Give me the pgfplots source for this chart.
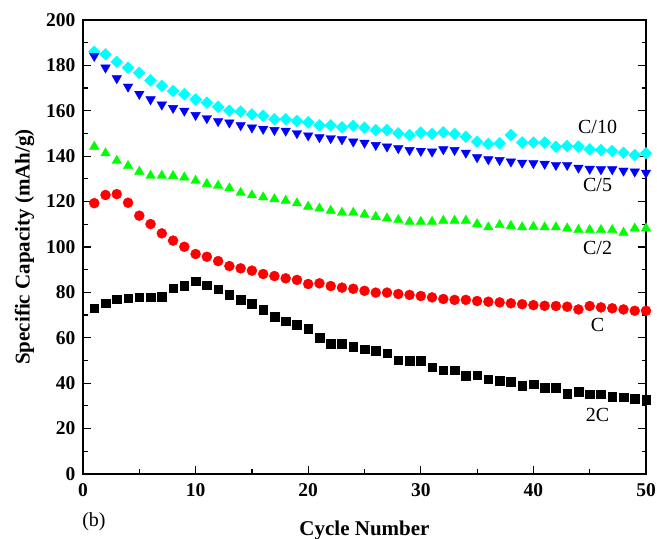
\documentclass[border=0pt]{standalone}
\usepackage{fontspec}
\setmainfont{Liberation Serif}
\usepackage{pgfplots}
\pgfplotsset{compat=1.18}
\usetikzlibrary{calc}
\definecolor{ccyan}{RGB}{0,255,255}
\definecolor{cblue}{RGB}{0,0,255}
\definecolor{cgreen}{RGB}{0,255,0}
\definecolor{cred}{RGB}{255,0,0}
\begin{document}
\begin{tikzpicture}
\begin{axis}[
  scale only axis, width=563pt, height=454pt,
  xmin=0, xmax=50, ymin=0, ymax=200,
  xtick distance=10, ytick distance=20,
  minor x tick num=1, minor y tick num=1,
  tick align=inside, xtick pos=bottom, ytick pos=both,
  major tick length=8pt, minor tick length=4.5pt,
  axis line style={line width=1.3pt}, every tick/.style={line width=1.2pt, black},
  /pgf/number format/assume math mode=true,
  ticklabel style={font=\bfseries\fontsize{19.5}{19.5}\selectfont},
  xticklabel style={yshift=-6pt},
  yticklabel style={xshift=-4pt},
  label style={font=\bfseries\fontsize{21}{21}\selectfont},
  xlabel={Cycle Number}, ylabel={Specific Capacity (mAh/g)},
  xlabel style={yshift=-17pt},
  ylabel style={yshift=5pt},
  only marks, clip=false,
]
% C/10
\addplot[mark=square*, color=ccyan, mark options={rotate=45, draw=none, fill=ccyan}, mark size=4.2] coordinates {
(1,186)(2,184.9)(3,181.6)(4,179)(5,176.7)(6,173.4)(7,171)(8,168.7)(9,167.3)(10,165)
(11,163.6)(12,161.8)(13,160)(14,159.6)(15,158.4)(16,157.8)(17,156.3)(18,156.3)(19,155.5)(20,154.9)
(21,153.6)(22,153.6)(23,152.7)(24,153.4)(25,152.5)(26,151.5)(27,151.5)(28,150.1)(29,149.3)(30,150.4)
(31,149.8)(32,150.5)(33,149.8)(34,148.6)(35,146.4)(36,145.4)(37,145.7)(38,149.3)(39,146)(40,146)
(41,146)(42,144.2)(43,144.5)(44,144.2)(45,143)(46,142.7)(47,142.3)(48,141.5)(49,140.5)(50,141.3)};
% C/5
\addplot[mark=triangle*, color=cblue, mark options={rotate=180, draw=none, fill=cblue}, mark size=5.5] coordinates {
(1,184.1)(2,179)(3,174.3)(4,170.6)(5,167.4)(6,165)(7,162.7)(8,161.2)(9,160)(10,158.1)
(11,156.7)(12,155.4)(13,154.8)(14,153.6)(15,152.6)(16,152)(17,151.5)(18,151.2)(19,150.1)(20,149.1)
(21,148.3)(22,147.9)(23,147.4)(24,146.4)(25,145.9)(26,144.9)(27,144.2)(28,143.5)(29,142.7)(30,142.3)
(31,142)(32,143)(33,142.7)(34,141.5)(35,139.5)(36,138.6)(37,138.3)(38,137.6)(39,137.1)(40,136.9)
(41,136.6)(42,136.1)(43,136.1)(44,134.9)(45,134.4)(46,134.2)(47,134.2)(48,133.6)(49,133.2)(50,132.7)};
% C/2
\addplot[mark=triangle*, color=cgreen, mark options={draw=none, fill=cgreen}, mark size=5.5] coordinates {
(1,144.2)(2,141.3)(3,138)(4,135.7)(5,133.2)(6,131.4)(7,131.4)(8,131.3)(9,130.7)(10,129.2)
(11,127.8)(12,127)(13,125.9)(14,123.9)(15,122.8)(16,121.9)(17,121.1)(18,120.4)(19,119.3)(20,117.8)
(21,117)(22,116)(23,115.1)(24,115.1)(25,114.3)(26,113.3)(27,112.6)(28,111.9)(29,111.1)(30,111.1)
(31,111.1)(32,111.6)(33,111.6)(34,111.6)(35,110.1)(36,108.7)(37,109.7)(38,109.3)(39,108.7)(40,108.9)
(41,108.7)(42,108.7)(43,108.2)(44,107.5)(45,107.5)(46,107.5)(47,107.5)(48,106.3)(49,108.2)(50,108.2)};
% C
\addplot[mark=*, color=cred, mark options={draw=none, fill=cred}, mark size=5] coordinates {
(1,119.3)(2,122.9)(3,123.3)(4,119.5)(5,113.8)(6,110.1)(7,106)(8,102.8)(9,100.1)(10,96.9)
(11,95.7)(12,93.8)(13,91.6)(14,90.6)(15,89.6)(16,88.1)(17,87.2)(18,86.2)(19,85.5)(20,83.7)
(21,84)(22,82.8)(23,82.1)(24,81.6)(25,80.7)(26,79.9)(27,79.9)(28,79.3)(29,78.9)(30,78.4)
(31,77.8)(32,77.1)(33,76.7)(34,76.7)(35,76.2)(36,75.9)(37,75.6)(38,75.2)(39,74.8)(40,74.4)
(41,74.1)(42,74)(43,73.7)(44,72.5)(45,74)(46,73.4)(47,73)(48,72.5)(49,71.9)(50,71.9)};
% 2C
\addplot[mark=square*, color=black, mark options={draw=none, fill=black}, mark size=4.3] coordinates {
(1,73)(2,75.2)(3,77)(4,77.4)(5,77.8)(6,77.8)(7,78.1)(8,81.8)(9,83)(10,85)
(11,83.1)(12,81.4)(13,79)(14,76.7)(15,74.9)(16,72.5)(17,69.3)(18,67.3)(19,65.9)(20,63.9)
(21,60)(22,57.4)(23,57.4)(24,56.1)(25,55)(26,54.2)(27,53.2)(28,50.2)(29,49.9)(30,49.8)
(31,47)(32,45.8)(33,45.8)(34,43.2)(35,43.5)(36,41.7)(37,41.1)(38,40.7)(39,38.9)(40,39.5)
(41,38)(42,38)(43,35.5)(44,36.3)(45,35.1)(46,35.1)(47,34)(48,33.8)(49,33.2)(50,32.6)};
\begin{scope}[every node/.style={font=\fontsize{20}{20}\selectfont}]
\node at (axis cs:45.7,152.9) {C/10};
\node at (axis cs:45.7,127.3) {C/5};
\node at (axis cs:45.7,99.6) {C/2};
\node at (axis cs:45.7,65.6) {C};
\node at (axis cs:45.7,26) {2C};
\node[xshift=11pt, yshift=-48pt] at (rel axis cs:0,0) {(b)};
\end{scope}
\end{axis}
\pgfresetboundingbox
\path[use as bounding box] ($(current axis.south west)+(-83pt,-65pt)$) rectangle ($(current axis.north east)+(11pt,20pt)$);
\end{tikzpicture}
\end{document}
